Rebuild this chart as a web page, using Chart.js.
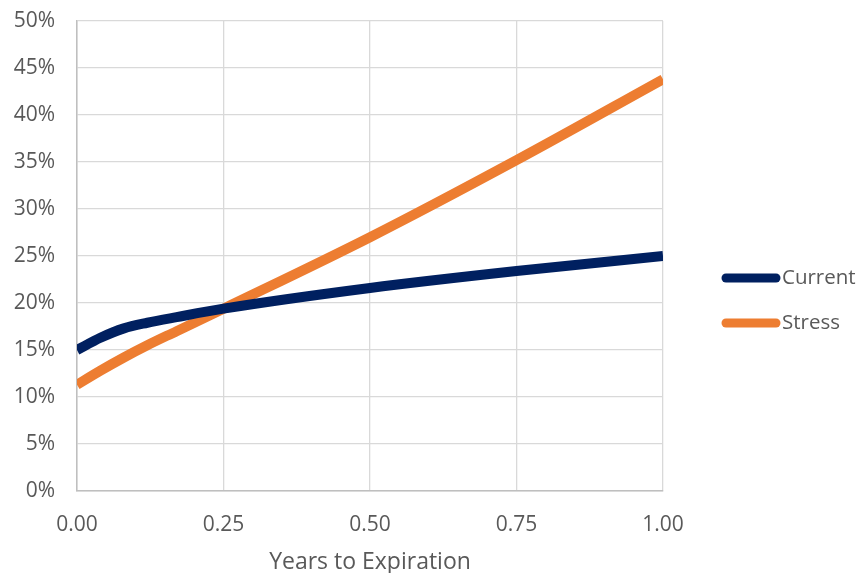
<!DOCTYPE html>
<html>
<head>
<meta charset="utf-8">
<script src="https://cdn.jsdelivr.net/npm/chart.js@4/dist/chart.umd.min.js"></script>
<style>
    html, body { margin: 0; padding: 0; background: #ffffff; }
    #wrap { width: 860px; height: 573px; }
</style>
</head>
<body>
<div id="wrap"><canvas id="chart" width="860" height="573"></canvas></div>
<script>
// years to expiration
const years = [0, 0.04, 0.08, 0.12, 0.17, 0.25, 0.5, 0.75, 1.0];
const currentVol = [0.150, 0.163, 0.173, 0.179, 0.185, 0.194, 0.216, 0.234, 0.250];
const stressVol = [0.113, 0.128, 0.142, 0.155, 0.170, 0.194, 0.270, 0.352, 0.438];
const seriesNames = ["Current", "Stress"];
const seriesColors = ["#002060", "#ED7D31"];

const fontFamily = "'Open Sans', 'Noto Sans', sans-serif";
const textColor = "#595959";

// legend drawn by hand so it sits where the original one does
const sideLegend = {
    id: "sideLegend",
    afterDraw(chart) {
        const ctx = chart.ctx;
        const rows = [278, 323];
        ctx.save();
        chart.data.datasets.forEach((ds, i) => {
            const y = rows[i];
            ctx.beginPath();
            ctx.lineCap = "round";
            ctx.lineWidth = 9;
            ctx.strokeStyle = ds.borderColor;
            ctx.moveTo(726, y);
            ctx.lineTo(776, y);
            ctx.stroke();
            ctx.fillStyle = textColor;
            ctx.font = "20.5px " + fontFamily;
            ctx.textBaseline = "middle";
            ctx.textAlign = "left";
            ctx.fillText(ds.label, 782, y);
        });
        ctx.restore();
    }
};

const ctx = document.getElementById("chart").getContext("2d");
new Chart(ctx, {
    type: "line",
    data: {
        datasets: [
            {
                label: seriesNames[0],
                data: years.map((x, i) => ({ x: x, y: currentVol[i] })),
                borderColor: seriesColors[0],
                backgroundColor: seriesColors[0],
            },
            {
                label: seriesNames[1],
                data: years.map((x, i) => ({ x: x, y: stressVol[i] })),
                borderColor: seriesColors[1],
                backgroundColor: seriesColors[1],
            },
        ],
    },
    options: {
        responsive: false,
        animation: false,
        layout: { padding: { top: 21, right: 197, bottom: 0, left: 0 } },
        elements: {
            line: { borderWidth: 10, cubicInterpolationMode: "monotone", borderCapStyle: "butt" },
            point: { radius: 0, hoverRadius: 0 },
        },
        plugins: {
            legend: { display: false },
            tooltip: { enabled: false },
        },
        scales: {
            x: {
                type: "linear",
                min: 0,
                max: 1,
                afterFit: s => { s.height = 82; s.paddingLeft = 0; s.paddingRight = 0; },
                ticks: {
                    stepSize: 0.25,
                    padding: 21,
                    color: textColor,
                    font: { family: fontFamily, size: 21 },
                    callback: v => v.toFixed(2),
                },
                grid: { color: "#d9d9d9", lineWidth: 1.3, drawTicks: false },
                border: { color: "#bfbfbf", width: 1.5 },
                title: {
                    display: true,
                    text: "Years to Expiration",
                    color: textColor,
                    font: { family: fontFamily, size: 23 },
                    padding: { top: 11, bottom: -3 },
                },
            },
            y: {
                min: 0,
                max: 0.5,
                afterFit: s => { s.width = 77; s.paddingTop = 0; s.paddingBottom = 0; },
                ticks: {
                    stepSize: 0.05,
                    padding: 22,
                    color: textColor,
                    font: { family: fontFamily, size: 21 },
                    callback: v => Math.round(v * 100) + "%",
                },
                grid: { color: "#d9d9d9", lineWidth: 1.3, drawTicks: false },
                border: { color: "#bfbfbf", width: 1.5 },
            },
        },
    },
    plugins: [sideLegend],
});
</script>
</body>
</html>
